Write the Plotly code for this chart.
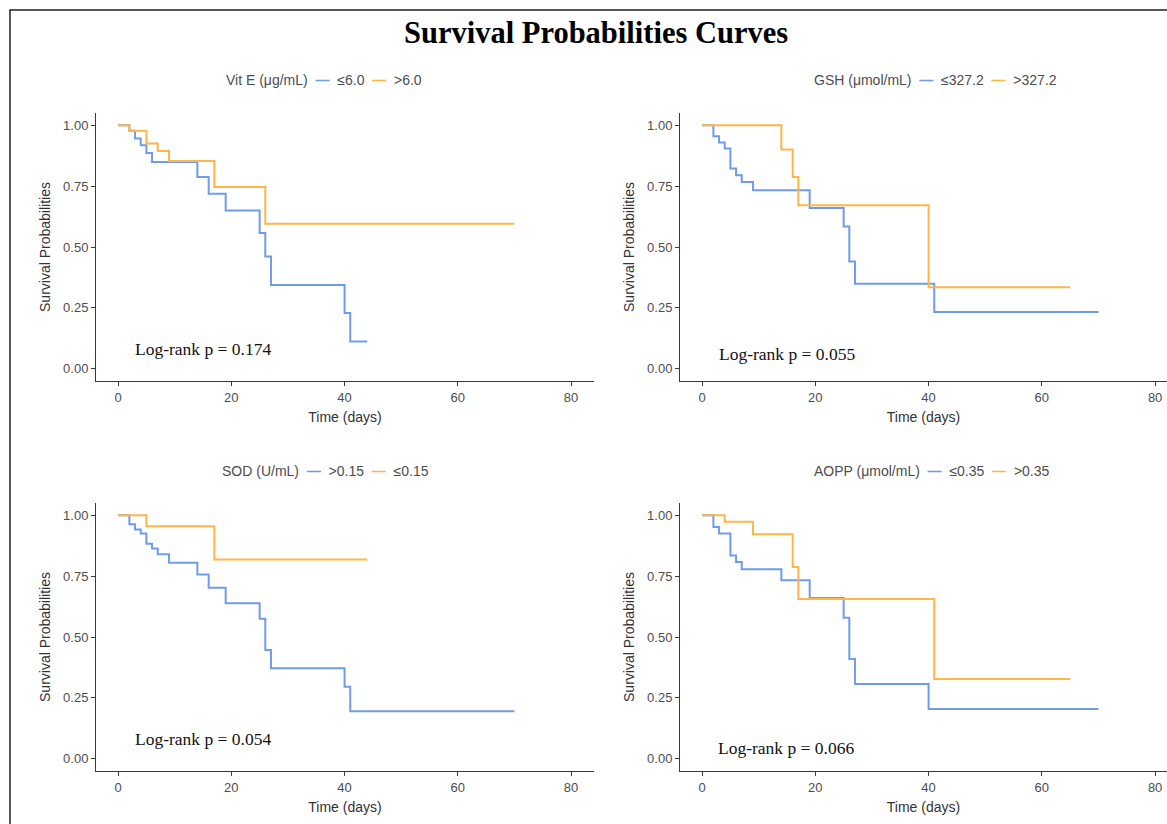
import plotly.graph_objects as go

W, H = 1167, 824

# ---------------- data ----------------
titles = ["Vit E (μg/mL)", "GSH (μmol/mL)", "SOD (U/mL)", "AOPP (μmol/mL)"]
group_a = ["≤6.0", "≤327.2", ">0.15", "≤0.35"]      # blue curves
group_b = [">6.0", ">327.2", "≤0.15", ">0.35"]      # orange curves
pvalues = ["0.174", "0.055", "0.054", "0.066"]

vitE_a_t = [0, 2, 3, 4, 5, 6, 14, 16, 19, 25, 26, 27, 40, 41, 44]
vitE_a_s = [1.0, 0.977, 0.945, 0.918, 0.886, 0.849, 0.787, 0.719, 0.650, 0.557, 0.461, 0.344, 0.229, 0.112, 0.112]
vitE_b_t = [0, 2, 5, 7, 9, 17, 26, 70]
vitE_b_s = [1.0, 0.977, 0.925, 0.894, 0.853, 0.746, 0.595, 0.595]

gsh_a_t = [0, 2, 3, 4, 5, 6, 7, 9, 19, 25, 26, 27, 41, 70]
gsh_a_s = [1.0, 0.955, 0.929, 0.904, 0.822, 0.794, 0.767, 0.733, 0.660, 0.584, 0.440, 0.349, 0.233, 0.233]
gsh_b_t = [0, 14, 16, 17, 40, 65]
gsh_b_s = [1.0, 0.900, 0.787, 0.671, 0.335, 0.335]

sod_a_t = [0, 2, 3, 4, 5, 6, 7, 9, 14, 16, 19, 25, 26, 27, 40, 41, 70]
sod_a_s = [1.0, 0.963, 0.941, 0.925, 0.883, 0.863, 0.840, 0.805, 0.757, 0.702, 0.639, 0.575, 0.447, 0.372, 0.296, 0.195, 0.195]
sod_b_t = [0, 5, 17, 44]
sod_b_s = [1.0, 0.955, 0.818, 0.818]

aopp_a_t = [0, 2, 3, 5, 6, 7, 14, 19, 25, 26, 27, 40, 70]
aopp_a_s = [1.0, 0.952, 0.925, 0.835, 0.808, 0.778, 0.733, 0.660, 0.579, 0.410, 0.307, 0.204, 0.204]
aopp_b_t = [0, 4, 9, 16, 17, 41, 65]
aopp_b_s = [1.0, 0.973, 0.922, 0.787, 0.656, 0.328, 0.328]

curves = [
    (vitE_a_t, vitE_a_s, vitE_b_t, vitE_b_s),
    (gsh_a_t, gsh_a_s, gsh_b_t, gsh_b_s),
    (sod_a_t, sod_a_s, sod_b_t, sod_b_s),
    (aopp_a_t, aopp_a_s, aopp_b_t, aopp_b_s),
]

x_ticks = [0, 20, 40, 60, 80]
y_ticks = [0.0, 0.25, 0.5, 0.75, 1.0]
y_ticklabels = ["0.00", "0.25", "0.50", "0.75", "1.00"]

# ---------------- style ----------------
BLUE = "#6f9cea"
ORANGE = "#ffb547"
AXIS = "#3a3a3a"
TICKTXT = "#4d4d4d"
SANS = "Liberation Sans, Arial, sans-serif"
SERIF = "Liberation Serif, Times New Roman, serif"

def px_x(p):
    return p / W

def px_y(p):
    return 1 - p / H

# panel geometry in pixels: (left, right, top, bottom)
panels = [
    (96, 594, 113, 381),
    (680, 1167, 113, 381),
    (96, 594, 503, 771),
    (680, 1167, 503, 771),
]
x_ranges = [[-3.9, 84.05], [-3.9, 82.1], [-3.9, 84.05], [-3.9, 82.1]]
legend_cx = [324, 935, 325, 932]
legend_cy = [80, 80, 471, 471]
logrank_pos = [(2.6, 0.083), (2.6, 0.062), (2.6, 0.083), (2.5, 0.046)]

fig = go.Figure()

for i, (ta, sa, tb, sb) in enumerate(curves):
    n = i + 1
    xa = "x" if n == 1 else f"x{n}"
    ya = "y" if n == 1 else f"y{n}"
    fig.add_trace(go.Scatter(x=ta, y=sa, mode="lines", line=dict(color=BLUE, width=2, shape="hv"),
                             name=group_a[i], xaxis=xa, yaxis=ya, showlegend=False))
    fig.add_trace(go.Scatter(x=tb, y=sb, mode="lines", line=dict(color=ORANGE, width=2, shape="hv"),
                             name=group_b[i], xaxis=xa, yaxis=ya, showlegend=False))

    l, r, t, b = panels[i]
    xkey = "xaxis" if n == 1 else f"xaxis{n}"
    ykey = "yaxis" if n == 1 else f"yaxis{n}"
    fig.layout[xkey] = dict(
        domain=[px_x(l), px_x(r)], anchor=ya, range=x_ranges[i],
        tickmode="array", tickvals=x_ticks, ticks="outside", ticklen=4, tickwidth=1,
        tickcolor=AXIS, showline=True, linecolor=AXIS, linewidth=1, showgrid=False,
        zeroline=False, tickfont=dict(family=SANS, size=13, color=TICKTXT),
        title=dict(text="Time (days)", font=dict(family=SANS, size=14, color="#333333"), standoff=8),
    )
    fig.layout[ykey] = dict(
        domain=[px_y(b), px_y(t)], anchor=xa, range=[-0.05, 1.05],
        tickmode="array", tickvals=y_ticks, ticktext=y_ticklabels, ticks="outside", ticklen=4,
        tickwidth=1, tickcolor=AXIS, showline=True, linecolor=AXIS, linewidth=1, showgrid=False,
        zeroline=False, tickfont=dict(family=SANS, size=13, color=TICKTXT),
        title=dict(text="Survival Probabilities", font=dict(family=SANS, size=14, color="#333333"), standoff=9),
    )

    # legend row as text
    leg = (f'{titles[i]}  <span style="color:{BLUE}"><b>—</b></span>  {group_a[i]}'
           f'  <span style="color:{ORANGE}"><b>—</b></span>  {group_b[i]}')
    fig.add_annotation(text=leg, xref="paper", yref="paper", x=px_x(legend_cx[i]), y=px_y(legend_cy[i]),
                       xanchor="center", yanchor="middle", showarrow=False,
                       font=dict(family=SANS, size=14, color="#4d4d4d"))

    lx, ly = logrank_pos[i]
    fig.add_annotation(text=f"Log-rank p = {pvalues[i]}", xref=xa, yref=ya, x=lx, y=ly,
                       xanchor="left", yanchor="middle", showarrow=False,
                       font=dict(family=SERIF, size=17.5, color="#111111"))

# main title
fig.add_annotation(text="<b>Survival Probabilities Curves</b>", xref="paper", yref="paper",
                   x=px_x(596), y=px_y(33), xanchor="center", yanchor="middle", showarrow=False,
                   font=dict(family=SERIF, size=30.5, color="#000000"))

# outer frame
fig.add_shape(type="rect", xref="paper", yref="paper",
              x0=px_x(10), x1=1.05, y0=-0.05, y1=px_y(10),
              line=dict(color="#222222", width=1.5), fillcolor="rgba(0,0,0,0)", layer="above")

fig.update_layout(width=W, height=H, margin=dict(l=0, r=0, t=0, b=0),
                  paper_bgcolor="white", plot_bgcolor="white")

fig.write_html("out.html", config={"displayModeBar": False},
               post_script="document.body.style.margin='0';document.body.style.padding='0';")
